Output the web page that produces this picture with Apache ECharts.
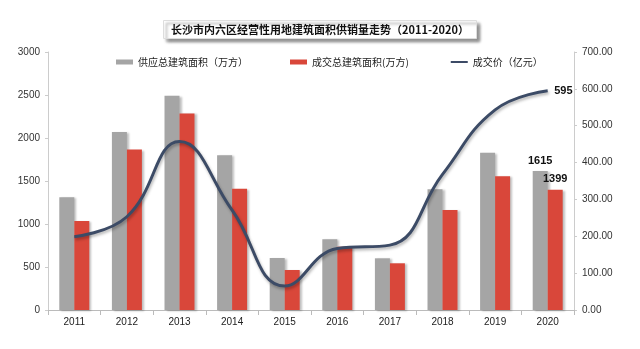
<!DOCTYPE html>
<html><head><meta charset="utf-8">
<script src="https://cdn.jsdelivr.net/npm/echarts@6/dist/echarts.min.js"></script>
<style>html,body{margin:0;padding:0;background:#fff}#c{width:640px;height:349px}</style>
</head><body><div id="c"></div>
<script>
const years = ['2011','2012','2013','2014','2015','2016','2017','2018','2019','2020'];
const supply = [1310, 2070, 2490, 1800, 605, 822, 601, 1405, 1828, 1615];
const deal = [1035, 1865, 2285, 1410, 465, 736, 543, 1163, 1556, 1399];
const price = [199, 253, 457, 271, 65, 167, 176, 368, 543, 595];
const leftTicks = [0, 3000, 500];
const rightTicks = [0, 700, 100];

const font = 'Liberation Sans, Arial, sans-serif';
const chart = echarts.init(document.getElementById('c'));
const lastLabel = arr => arr.map((v, i) => i === arr.length - 1 ? {value: v, label: {show: true}} : v);
const labelStyle = {color: '#111', fontSize: 11, fontWeight: 'bold', fontFamily: font};
const last = price.length - 1;
chart.setOption({
  animation: false,
  title: {
    text: '长沙市内六区经营性用地建筑面积供销量走势（2011-2020）',
    left: 'center', top: 20,
    padding: [4, 8, 4, 8],
    backgroundColor: '#fff',
    borderColor: '#ddd', borderWidth: 1,
    shadowColor: 'rgba(0,0,0,0.45)', shadowBlur: 3, shadowOffsetX: 3, shadowOffsetY: 3,
    textStyle: {fontSize: 11, fontWeight: 'bold', color: '#111', fontFamily: 'Noto Sans CJK SC'}
  },
  legend: {
    top: 52, left: 111, itemGap: 42,
    itemWidth: 17, itemHeight: 5,
    textStyle: {fontSize: 10, color: '#222', fontFamily: 'Noto Sans CJK SC'},
    data: [
      {name: '供应总建筑面积（万方）', icon: 'rect'},
      {name: '成交总建筑面积(万方)', icon: 'rect'},
      {name: '成交价（亿元）', icon: 'path://M0,0L17,0L17,2L0,2Z'}
    ]
  },
  grid: {left: 48, right: 66, top: 52, bottom: 39},
  xAxis: {
    type: 'category', data: years,
    axisLine: {lineStyle: {color: '#bbb'}},
    axisTick: {show: true, lineStyle: {color: '#bbb'}},
    axisLabel: {color: '#222', fontSize: 10, fontFamily: font, margin: 7}
  },
  yAxis: [{
    type: 'value', min: leftTicks[0], max: leftTicks[1], interval: leftTicks[2],
    axisLine: {show: true, lineStyle: {color: '#ccc'}},
    axisTick: {show: true, lineStyle: {color: '#ccc'}, length: 3},
    splitLine: {show: false},
    axisLabel: {color: '#333', fontSize: 10, fontFamily: font, margin: 8, formatter: v => String(v)}
  }, {
    type: 'value', min: rightTicks[0], max: rightTicks[1], interval: rightTicks[2],
    position: 'right',
    axisLine: {show: true, lineStyle: {color: '#ccc'}},
    axisTick: {show: true, lineStyle: {color: '#ccc'}, length: 3},
    splitLine: {show: false},
    axisLabel: {color: '#333', fontSize: 10, fontFamily: font, margin: 8, formatter: v => v.toFixed(2)}
  }],
  series: [{
    name: '供应总建筑面积（万方）', type: 'bar', barWidth: 15, barGap: '0%',
    itemStyle: {color: '#a5a5a5', shadowColor: 'rgba(0,0,0,0.25)', shadowBlur: 2, shadowOffsetX: 2, shadowOffsetY: 1},
    label: Object.assign({show: false, position: 'top', distance: 5}, labelStyle),
    data: lastLabel(supply)
  }, {
    name: '成交总建筑面积(万方)', type: 'bar', barWidth: 15,
    itemStyle: {color: '#d9473a', shadowColor: 'rgba(0,0,0,0.25)', shadowBlur: 2, shadowOffsetX: 2, shadowOffsetY: 1},
    label: Object.assign({show: false, position: 'top', distance: 5}, labelStyle),
    data: lastLabel(deal)
  }, {
    name: '成交价（亿元）', type: 'line', yAxisIndex: 1, smooth: 0.45,
    symbol: 'none',
    lineStyle: {color: '#3c4b66', width: 3, shadowColor: 'rgba(0,0,0,0.3)', shadowBlur: 3, shadowOffsetX: 1, shadowOffsetY: 2},
    itemStyle: {color: '#3c4b66'},
    data: price,
    markPoint: {
      symbol: 'circle', symbolSize: 1,
      itemStyle: {color: 'rgba(0,0,0,0)'},
      label: Object.assign({show: true, position: 'right', distance: 6, formatter: p => String(p.value)}, labelStyle),
      data: [{coord: [last, price[last]], value: price[last]}]
    }
  }]
});
</script></body></html>
